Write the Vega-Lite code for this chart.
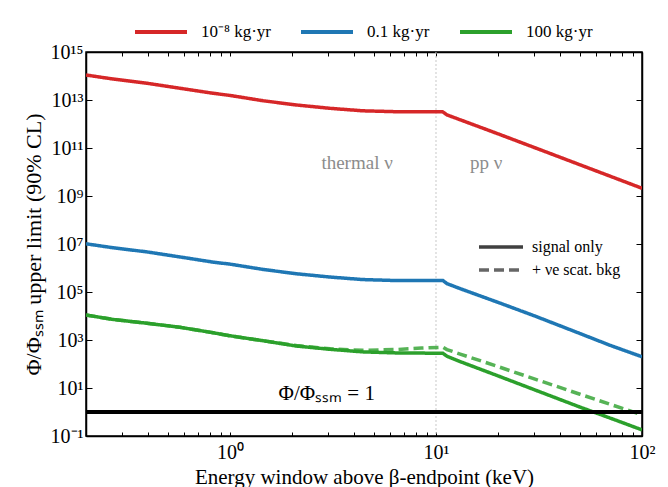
{
  "$schema": "https://vega.github.io/schema/vega-lite/v6.json",
  "width": 556,
  "height": 384,
  "autosize": {"type": "none"},
  "padding": {"left": 86, "top": 52, "right": 26, "bottom": 51},
  "background": "white",
  "view": {"stroke": "black", "strokeWidth": 1.5},
  "config": {
    "font": "Liberation Serif",
    "axis": {
      "labelFont": "Liberation Serif",
      "titleFont": "Liberation Serif",
      "labelColor": "black",
      "titleColor": "black",
      "titleFontWeight": "normal",
      "domainColor": "black",
      "domainWidth": 1.5,
      "tickColor": "black",
      "grid": false
    },
    "legend": {
      "labelFont": "Liberation Serif",
      "labelColor": "black"
    }
  },
  "datasets": {
    "curves": [
      {"x": 0.2, "y": 1.1e14, "s": "10⁻⁸ kg·yr", "b": "signal only"},
      {"x": 0.27, "y": 7.5e13, "s": "10⁻⁸ kg·yr", "b": "signal only"},
      {"x": 0.394, "y": 5.0e13, "s": "10⁻⁸ kg·yr", "b": "signal only"},
      {"x": 0.57, "y": 3.1e13, "s": "10⁻⁸ kg·yr", "b": "signal only"},
      {"x": 0.83, "y": 1.9e13, "s": "10⁻⁸ kg·yr", "b": "signal only"},
      {"x": 1.0, "y": 1.55e13, "s": "10⁻⁸ kg·yr", "b": "signal only"},
      {"x": 1.45, "y": 9.3e12, "s": "10⁻⁸ kg·yr", "b": "signal only"},
      {"x": 2.1, "y": 6.2e12, "s": "10⁻⁸ kg·yr", "b": "signal only"},
      {"x": 3.06, "y": 4.5e12, "s": "10⁻⁸ kg·yr", "b": "signal only"},
      {"x": 4.4, "y": 3.55e12, "s": "10⁻⁸ kg·yr", "b": "signal only"},
      {"x": 6.4, "y": 3.25e12, "s": "10⁻⁸ kg·yr", "b": "signal only"},
      {"x": 10.8, "y": 3.2e12, "s": "10⁻⁸ kg·yr", "b": "signal only"},
      {"x": 11.3, "y": 2.4e12, "s": "10⁻⁸ kg·yr", "b": "signal only"},
      {"x": 13.1, "y": 1.5e12, "s": "10⁻⁸ kg·yr", "b": "signal only"},
      {"x": 20, "y": 3.9e11, "s": "10⁻⁸ kg·yr", "b": "signal only"},
      {"x": 30, "y": 1.05e11, "s": "10⁻⁸ kg·yr", "b": "signal only"},
      {"x": 50, "y": 2.0e10, "s": "10⁻⁸ kg·yr", "b": "signal only"},
      {"x": 70, "y": 6.7e9, "s": "10⁻⁸ kg·yr", "b": "signal only"},
      {"x": 100, "y": 2.1e9, "s": "10⁻⁸ kg·yr", "b": "signal only"},

      {"x": 0.2, "y": 1.02e7, "s": "0.1 kg·yr", "b": "signal only"},
      {"x": 0.27, "y": 7.0e6, "s": "0.1 kg·yr", "b": "signal only"},
      {"x": 0.394, "y": 4.7e6, "s": "0.1 kg·yr", "b": "signal only"},
      {"x": 0.57, "y": 2.9e6, "s": "0.1 kg·yr", "b": "signal only"},
      {"x": 0.83, "y": 1.75e6, "s": "0.1 kg·yr", "b": "signal only"},
      {"x": 1.0, "y": 1.45e6, "s": "0.1 kg·yr", "b": "signal only"},
      {"x": 1.45, "y": 8.7e5, "s": "0.1 kg·yr", "b": "signal only"},
      {"x": 2.1, "y": 5.75e5, "s": "0.1 kg·yr", "b": "signal only"},
      {"x": 3.06, "y": 4.2e5, "s": "0.1 kg·yr", "b": "signal only"},
      {"x": 4.4, "y": 3.3e5, "s": "0.1 kg·yr", "b": "signal only"},
      {"x": 6.4, "y": 3.0e5, "s": "0.1 kg·yr", "b": "signal only"},
      {"x": 10.8, "y": 3.0e5, "s": "0.1 kg·yr", "b": "signal only"},
      {"x": 11.3, "y": 2.24e5, "s": "0.1 kg·yr", "b": "signal only"},
      {"x": 13.1, "y": 1.38e5, "s": "0.1 kg·yr", "b": "signal only"},
      {"x": 20, "y": 3.7e4, "s": "0.1 kg·yr", "b": "signal only"},
      {"x": 30, "y": 1.02e4, "s": "0.1 kg·yr", "b": "signal only"},
      {"x": 50, "y": 1.86e3, "s": "0.1 kg·yr", "b": "signal only"},
      {"x": 70, "y": 6.0e2, "s": "0.1 kg·yr", "b": "signal only"},
      {"x": 100, "y": 2.0e2, "s": "0.1 kg·yr", "b": "signal only"},

      {"x": 0.2, "y": 1.1e4, "s": "100 kg·yr", "b": "signal only"},
      {"x": 0.27, "y": 7.2e3, "s": "100 kg·yr", "b": "signal only"},
      {"x": 0.394, "y": 5.0e3, "s": "100 kg·yr", "b": "signal only"},
      {"x": 0.57, "y": 3.4e3, "s": "100 kg·yr", "b": "signal only"},
      {"x": 0.83, "y": 2.0e3, "s": "100 kg·yr", "b": "signal only"},
      {"x": 1.0, "y": 1.5e3, "s": "100 kg·yr", "b": "signal only"},
      {"x": 1.45, "y": 9.3e2, "s": "100 kg·yr", "b": "signal only"},
      {"x": 2.1, "y": 5.6e2, "s": "100 kg·yr", "b": "signal only"},
      {"x": 3.06, "y": 4.1e2, "s": "100 kg·yr", "b": "signal only"},
      {"x": 4.4, "y": 3.2e2, "s": "100 kg·yr", "b": "signal only"},
      {"x": 6.4, "y": 2.9e2, "s": "100 kg·yr", "b": "signal only"},
      {"x": 10.8, "y": 2.8e2, "s": "100 kg·yr", "b": "signal only"},
      {"x": 11.3, "y": 2.1e2, "s": "100 kg·yr", "b": "signal only"},
      {"x": 13.1, "y": 1.26e2, "s": "100 kg·yr", "b": "signal only"},
      {"x": 20, "y": 32, "s": "100 kg·yr", "b": "signal only"},
      {"x": 30, "y": 8.5, "s": "100 kg·yr", "b": "signal only"},
      {"x": 50, "y": 1.6, "s": "100 kg·yr", "b": "signal only"},
      {"x": 70, "y": 0.56, "s": "100 kg·yr", "b": "signal only"},
      {"x": 100, "y": 0.18, "s": "100 kg·yr", "b": "signal only"},

      {"x": 0.2, "y": 1.1e4, "s": "100 kg·yr", "b": "+ νe scat. bkg"},
      {"x": 0.27, "y": 7.2e3, "s": "100 kg·yr", "b": "+ νe scat. bkg"},
      {"x": 0.394, "y": 5.0e3, "s": "100 kg·yr", "b": "+ νe scat. bkg"},
      {"x": 0.57, "y": 3.4e3, "s": "100 kg·yr", "b": "+ νe scat. bkg"},
      {"x": 0.83, "y": 2.0e3, "s": "100 kg·yr", "b": "+ νe scat. bkg"},
      {"x": 1.0, "y": 1.5e3, "s": "100 kg·yr", "b": "+ νe scat. bkg"},
      {"x": 1.45, "y": 9.3e2, "s": "100 kg·yr", "b": "+ νe scat. bkg"},
      {"x": 2.1, "y": 5.9e2, "s": "100 kg·yr", "b": "+ νe scat. bkg"},
      {"x": 3.06, "y": 4.3e2, "s": "100 kg·yr", "b": "+ νe scat. bkg"},
      {"x": 4.4, "y": 3.7e2, "s": "100 kg·yr", "b": "+ νe scat. bkg"},
      {"x": 6.4, "y": 4.0e2, "s": "100 kg·yr", "b": "+ νe scat. bkg"},
      {"x": 8.5, "y": 4.6e2, "s": "100 kg·yr", "b": "+ νe scat. bkg"},
      {"x": 10.8, "y": 5.0e2, "s": "100 kg·yr", "b": "+ νe scat. bkg"},
      {"x": 11.3, "y": 4.0e2, "s": "100 kg·yr", "b": "+ νe scat. bkg"},
      {"x": 13.1, "y": 2.6e2, "s": "100 kg·yr", "b": "+ νe scat. bkg"},
      {"x": 20, "y": 78, "s": "100 kg·yr", "b": "+ νe scat. bkg"},
      {"x": 30, "y": 24, "s": "100 kg·yr", "b": "+ νe scat. bkg"},
      {"x": 50, "y": 5.5, "s": "100 kg·yr", "b": "+ νe scat. bkg"},
      {"x": 70, "y": 2.1, "s": "100 kg·yr", "b": "+ νe scat. bkg"},
      {"x": 100, "y": 0.76, "s": "100 kg·yr", "b": "+ νe scat. bkg"}
    ]
  },
  "layer": [
    {
      "data": {"values": [{"x": 10}]},
      "mark": {"type": "rule", "color": "#c8c8c8", "strokeWidth": 1, "strokeDash": [2, 2]},
      "encoding": {
        "x": {
          "field": "x", "type": "quantitative",
          "scale": {"type": "log", "domain": [0.2, 100], "nice": false},
          "axis": {
            "orient": "top", "title": null, "labels": false,
            "values": [0.2,0.3,0.4,0.5,0.6,0.7,0.8,0.9,1,2,3,4,5,6,7,8,9,10,20,30,40,50,60,70,80,90,100],
            "tickSize": -4, "tickWidth": 1
          }
        }
      }
    },
    {
      "data": {"name": "curves"},
      "mark": {"type": "line", "strokeWidth": 3.5, "clip": true},
      "encoding": {
        "x": {
          "field": "x", "type": "quantitative",
          "scale": {"type": "log", "domain": [0.2, 100], "nice": false},
          "axis": {
            "orient": "bottom",
            "title": "Energy window above β-endpoint (keV)",
            "titleFontSize": 21,
            "titlePadding": 4,
            "values": [0.2,0.3,0.4,0.5,0.6,0.7,0.8,0.9,1,2,3,4,5,6,7,8,9,10,20,30,40,50,60,70,80,90,100],
            "labelExpr": "datum.value == 1 ? '10⁰' : datum.value == 10 ? '10¹' : datum.value == 100 ? '10²' : ''",
            "labelFontSize": 20,
            "labelPadding": 10,
            "labelOverlap": false,
            "labelFlush": false,
            "tickSize": -4, "tickWidth": 1
          }
        },
        "y": {
          "field": "y", "type": "quantitative",
          "scale": {"type": "log", "domain": [0.1, 1e15], "nice": false},
          "axis": {
            "orient": "left",
            "title": "Φ/Φₛₛₘ upper limit (90% CL)",
            "titleFontSize": 22,
            "titlePadding": 5,
            "values": [0.1, 10, 1000, 1e5, 1e7, 1e9, 1e11, 1e13, 1e15],
            "labelExpr": "['10⁻¹','10⁰','10¹','10²','10³','10⁴','10⁵','10⁶','10⁷','10⁸','10⁹','10¹⁰','10¹¹','10¹²','10¹³','10¹⁴','10¹⁵'][round(log(datum.value)/LN10)+1]",
            "labelFontSize": 20,
            "labelPadding": 9,
            "labelOverlap": false,
            "labelFlush": false,
            "tickSize": -6, "tickWidth": 1
          }
        },
        "color": {
          "field": "s", "type": "nominal",
          "scale": {"domain": ["10⁻⁸ kg·yr", "0.1 kg·yr", "100 kg·yr"], "range": ["#d62728", "#1f77b4", "#2ca02c"]},
          "legend": {
            "orient": "none", "legendX": 47, "legendY": -48,
            "direction": "horizontal", "title": null,
            "symbolType": "stroke", "symbolSize": 2704, "symbolStrokeWidth": 4,
            "labelFontSize": 17, "labelOffset": 12, "columnPadding": 22
          }
        },
        "strokeDash": {
          "field": "b", "type": "nominal",
          "scale": {"domain": ["signal only", "+ νe scat. bkg"], "range": [[1, 0], [10, 5]]},
          "legend": {
            "orient": "none", "legendX": 407, "legendY": 187,
            "direction": "vertical", "title": null,
            "symbolType": "M-4,0H4", "symbolSize": 121, "symbolStrokeWidth": 3.5,
            "symbolStrokeColor": "#404040",
            "labelFontSize": 16, "labelOffset": 23, "rowPadding": 7
          }
        },
        "opacity": {
          "field": "b", "type": "nominal",
          "scale": {"domain": ["signal only", "+ νe scat. bkg"], "range": [1, 0.8]},
          "legend": null
        }
      }
    },
    {
      "data": {"values": [{"y": 1}]},
      "mark": {"type": "rule", "color": "black", "strokeWidth": 4},
      "encoding": {
        "y": {
          "field": "y", "type": "quantitative",
          "scale": {"type": "log", "domain": [0.1, 1e15], "nice": false},
          "axis": {
            "orient": "right", "title": null, "labels": false,
            "values": [0.1, 10, 1000, 1e5, 1e7, 1e9, 1e11, 1e13, 1e15],
            "tickSize": -6, "tickWidth": 1
          }
        }
      }
    },
    {
      "data": {"values": [{"x": 4.14, "y": 2.4e10, "t": "thermal ν"}, {"x": 17.5, "y": 2.4e10, "t": "pp ν"}]},
      "mark": {"type": "text", "color": "#8c8c8c", "fontSize": 19, "font": "Liberation Serif"},
      "encoding": {
        "x": {"field": "x", "type": "quantitative", "axis": null},
        "y": {"field": "y", "type": "quantitative", "axis": null},
        "text": {"field": "t"}
      }
    },
    {
      "data": {"values": [{"x": 2.95, "y": 5.6, "t": "Φ/Φₛₛₘ = 1"}]},
      "mark": {"type": "text", "color": "black", "fontSize": 21, "font": "Liberation Serif"},
      "encoding": {
        "x": {"field": "x", "type": "quantitative", "axis": null},
        "y": {"field": "y", "type": "quantitative", "axis": null},
        "text": {"field": "t"}
      }
    }
  ],
  "resolve": {"axis": {"x": "independent", "y": "independent"}}
}
